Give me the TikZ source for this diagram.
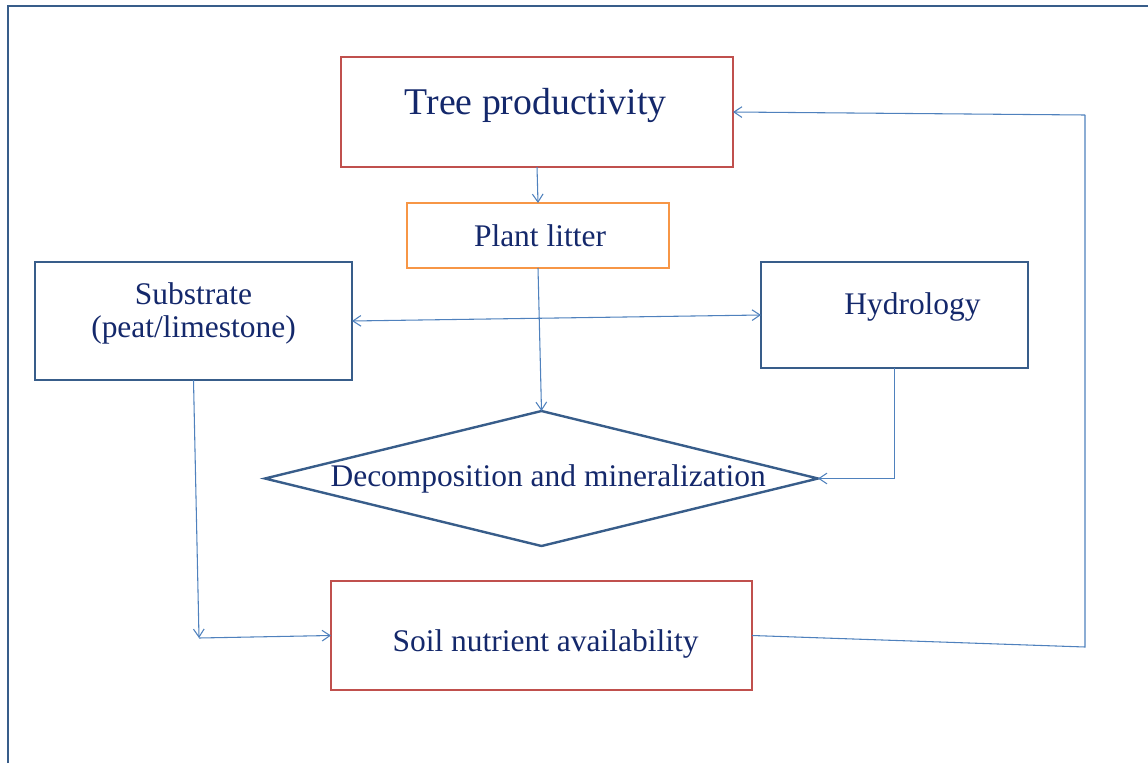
\documentclass[tikz,border=0pt]{standalone}
\usepackage{fontspec}
\setmainfont{Liberation Serif}
\usetikzlibrary{arrows.meta,shapes.geometric}
\definecolor{cred}{HTML}{C0504D}
\definecolor{corange}{HTML}{F79646}
\definecolor{cbox}{HTML}{385D8A}
\definecolor{carrow}{HTML}{4F81BD}
\definecolor{ctext}{HTML}{14286B}
\tikzset{
  box/.style={draw, rectangle, inner sep=0pt, outer sep=0pt},
  txt/.style={text=ctext, font=\fontsize{23.6}{24.8}\selectfont, align=center},
  arr/.style={draw=carrow, line width=0.8pt, -{Straight Barb[length=6pt,width=8pt]}},
  darr/.style={draw=carrow, line width=0.8pt, {Straight Barb[length=6pt,width=8pt]}-{Straight Barb[length=6pt,width=8pt]}},
  plain/.style={draw=carrow, line width=0.8pt},
}
\begin{document}
\begin{tikzpicture}[x=0.75pt,y=-0.75pt]
\useasboundingbox (0,0) rectangle (1148,763);
% frame
\draw[cbox, line width=1.4pt] (8,763) -- (8,6);
\draw[cbox, line width=2.2pt] (7,6) -- (1148,6);
% nodes
\node[box, draw=cred, line width=2.2pt, minimum width=294pt, minimum height=82.5pt,
  label={[txt, font=\fontsize{28.3}{30}\selectfont, yshift=5.25pt, xshift=-1pt]center:Tree productivity}] (tree) at (537,112) {};
\node[box, draw=corange, line width=2pt, minimum width=196.5pt, minimum height=48.75pt,
  label={[txt, xshift=1.5pt]center:Plant litter}] (litter) at (538,235.5) {};
\node[box, draw=cbox, line width=1pt, minimum width=237.75pt, minimum height=88.5pt,
  label={[txt, yshift=5.5pt]center:Substrate\\(peat/limestone)}] (sub) at (193.5,321) {};
\node[box, draw=cbox, line width=2.2pt, minimum width=200.25pt, minimum height=79.5pt,
  label={[txt, yshift=6pt, xshift=13.5pt]center:Hydrology}] (hyd) at (894.5,315) {};
\node[diamond, draw=cbox, line width=1.8pt, inner sep=0pt, outer sep=0pt,
  minimum width=414.75pt, minimum height=101.25pt,
  label={[txt, xshift=5pt]center:Decomposition and mineralization}] (dec) at (541.5,478.5) {};
\node[box, draw=cred, line width=2.2pt, minimum width=315.75pt, minimum height=81.75pt,
  label={[txt, yshift=-6.5pt, xshift=3pt]center:Soil nutrient availability}] (soil) at (541.5,635.5) {};
% helper coordinates
\coordinate (c1) at (199,638);
\coordinate (c2) at (1085,647);
\coordinate (c3) at (1085,115);
% connectors
\draw[arr] (tree.south) -- (litter.north);
\draw[arr] (litter.south) -- (dec.north);
\draw[darr] (sub.east) -- (hyd.west);
\draw[arr] (hyd.south) |- (dec.east);
\draw[arr] (sub.south) -- (c1);
\draw[arr] (c1) -- (soil.west);
\draw[plain] (soil.east) -- (c2) -- (c3);
\draw[arr] (c3) -- (tree.east);
\end{tikzpicture}
\end{document}
